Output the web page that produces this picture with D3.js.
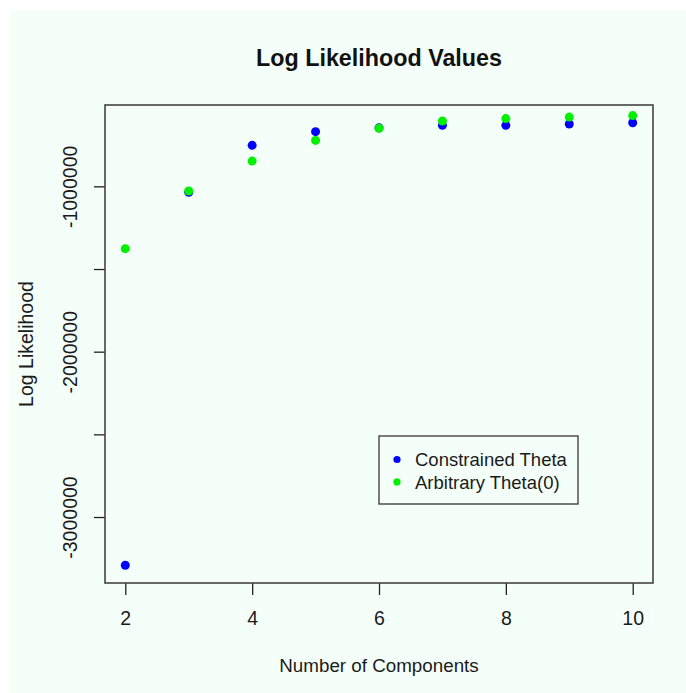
<!DOCTYPE html>
<html>
    <head>
        <meta charset="utf-8">
        <title>Log Likelihood Values</title>
        <script src="https://d3js.org/d3.v7.min.js"></script>
        <style>
            body { margin: 0; background: #fff; }
            svg { display: block; font-family: "Liberation Sans", Arial, sans-serif; }
            .tick text { font-size: 19.5px; fill: #1a1a1a; }
            .tick line { stroke: #222; stroke-width: 1.3; }
        </style>
    </head>
    <body>
        <svg></svg>
        <script>
            // 数据
            const components = [2, 3, 4, 5, 6, 7, 8, 9, 10];
            const constrained = [-3292000, -1036000, -752000, -669000, -646000, -631000, -631000, -623000, -615000];
            const arbitrary = [-1377000, -1028000, -847000, -722000, -649000, -605000, -590000, -581000, -572000];
            const xTicks = [2, 4, 6, 8, 10];
            const yTicks = [-3000000, -2500000, -2000000, -1500000, -1000000];
            const seriesNames = ['Constrained Theta', 'Arbitrary Theta(0)'];
            const seriesColors = ['#0000ff', '#00f000'];

            const width = 686;
            const height = 693;
            const plot = {left: 105, right: 653, top: 105, bottom: 583};

            const svg = d3.select('svg').attr('width', width).attr('height', height);

            // 背景
            svg.append('rect').attr('x', 10).attr('y', 10)
                .attr('width', width - 10).attr('height', height - 10)
                .attr('fill', '#f5fffa');

            // 和 R 一样，范围两边各放 4%
            const pad = (ext) => {
                const d = (ext[1] - ext[0]) * 0.04;
                return [ext[0] - d, ext[1] + d];
            };

            const x = d3.scaleLinear().domain(pad(d3.extent(components))).range([plot.left, plot.right]);
            const y = d3.scaleLinear().domain(pad(d3.extent(constrained))).range([plot.bottom, plot.top]);

            // x 轴
            const xAxis = svg.append('g').attr('transform', 'translate(0,' + plot.bottom + ')')
                .call(d3.axisBottom(x).tickValues(xTicks).tickSize(12).tickPadding(16).tickFormat(d3.format('d')));
            xAxis.select('.domain').remove();

            // y 轴，标签隔一个显示
            const yAxis = svg.append('g').attr('transform', 'translate(' + plot.left + ',0)')
                .call(d3.axisLeft(y).tickValues(yTicks).tickSize(11)
                    .tickFormat(v => v % 1000000 === 0 ? String(v) : ''));
            yAxis.select('.domain').remove();
            yAxis.selectAll('.tick text')
                .attr('text-anchor', 'middle')
                .attr('x', 0).attr('dy', 0)
                .attr('transform', 'translate(-28,0) rotate(-90)');

            // 边框
            svg.append('rect')
                .attr('x', plot.left).attr('y', plot.top)
                .attr('width', plot.right - plot.left).attr('height', plot.bottom - plot.top)
                .attr('fill', 'none').attr('stroke', '#444').attr('stroke-width', 1.6);

            // 点
            [constrained, arbitrary].forEach((series, k) => {
                svg.append('g').selectAll('circle').data(series).enter().append('circle')
                    .attr('cx', (v, i) => x(components[i]))
                    .attr('cy', v => y(v))
                    .attr('r', 4.5)
                    .attr('fill', seriesColors[k]);
            });

            // 标题和轴标题
            svg.append('text').text('Log Likelihood Values')
                .attr('x', (plot.left + plot.right) / 2).attr('y', 66)
                .attr('text-anchor', 'middle').attr('font-size', '23.3px').attr('font-weight', 'bold')
                .attr('fill', '#111');

            svg.append('text').text('Number of Components')
                .attr('x', (plot.left + plot.right) / 2).attr('y', 672)
                .attr('text-anchor', 'middle').attr('font-size', '18.8px').attr('fill', '#1a1a1a');

            svg.append('text').text('Log Likelihood')
                .attr('transform', 'translate(33,' + (plot.top + plot.bottom) / 2 + ') rotate(-90)')
                .attr('text-anchor', 'middle').attr('font-size', '19.5px').attr('fill', '#1a1a1a');

            // 图例
            const legend = svg.append('g').attr('transform', 'translate(379,436)');
            legend.append('rect').attr('width', 199).attr('height', 68)
                .attr('fill', 'none').attr('stroke', '#444').attr('stroke-width', 1.4);
            const rows = legend.selectAll('g.row').data(seriesNames).enter().append('g')
                .attr('transform', (d, i) => 'translate(0,' + (23.5 + i * 22.4) + ')');
            rows.append('circle').attr('cx', 18).attr('cy', 0).attr('r', 3.6)
                .attr('fill', (d, i) => seriesColors[i]);
            rows.append('text').text(d => d).attr('x', 36).attr('y', 6.8)
                .attr('font-size', '18.5px').attr('fill', '#1a1a1a');
        </script>
    </body>
</html>
